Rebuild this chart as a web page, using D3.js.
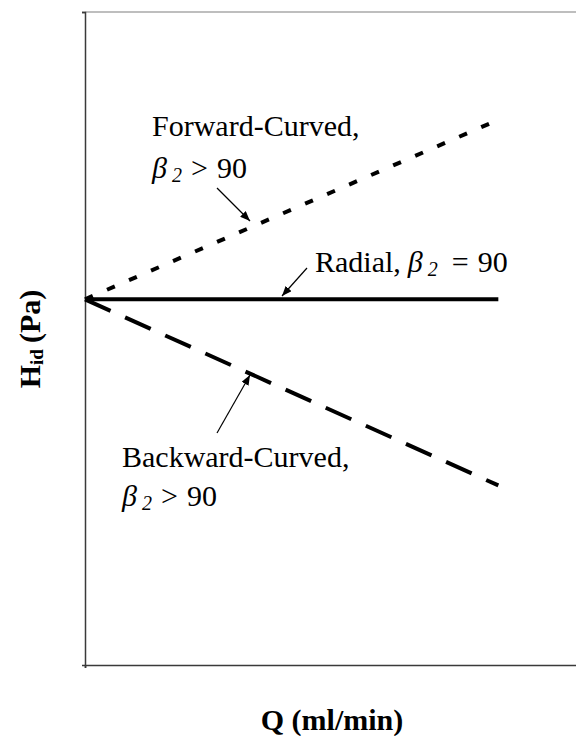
<!DOCTYPE html>
<html>
<head>
<meta charset="utf-8">
<script src="https://cdn.jsdelivr.net/npm/d3@7"></script>
<style>
  body { margin: 0; background: #fff; }
  svg { display: block; }
  text { font-family: "Times New Roman", "Liberation Serif", serif; fill: #000; }
</style>
</head>
<body>
<svg id="chart"></svg>
<script>
const qValues = [0, 10];
const radialH = [56, 56];
const forwardH = [56, 83.5];
const backwardH = [56, 27.5];

const width = 576, height = 736;
const svg = d3.select("#chart").attr("width", width).attr("height", height);

// plot area runs past the right edge of the picture
const x = d3.scaleLinear().domain([0, 12]).range([85, 581]);
const y = d3.scaleLinear().domain([0, 100]).range([665, 12]);

// frame
svg.append("line")
    .attr("x1", x(0)).attr("x2", width)
    .attr("y1", y(100)).attr("y2", y(100))
    .attr("stroke", "#a8a8a8").attr("stroke-width", 1.5);

const xAxis = svg.append("g")
    .attr("transform", `translate(0,${y(0)})`)
    .call(d3.axisBottom(x).tickValues([0]).tickSize(3).tickFormat(""));
const yAxis = svg.append("g")
    .attr("transform", `translate(${x(0)},0)`)
    .call(d3.axisLeft(y).tickValues([100]).tickSize(3).tickFormat(""));
[xAxis, yAxis].forEach(g => {
    g.select(".domain").attr("stroke", "#3a3a3a").attr("stroke-width", 1.5);
    g.selectAll(".tick line").attr("stroke", "#3a3a3a").attr("stroke-width", 1.5);
});

// series
const series = [
    { name: "radial", values: radialH, dash: null },
    { name: "forward", values: forwardH, dash: "8.5,15.5" },
    { name: "backward", values: backwardH, dash: "28,16" }
];
const line = d3.line().x(d => x(d[0])).y(d => y(d[1]));
series.forEach(s => {
    svg.append("path")
        .datum(qValues.map((q, i) => [q, s.values[i]]))
        .attr("d", line)
        .attr("fill", "none")
        .attr("stroke", "#000")
        .attr("stroke-width", 4)
        .attr("stroke-dasharray", s.dash);
});

// arrowhead
svg.append("defs").append("marker")
    .attr("id", "arrow")
    .attr("viewBox", "0 0 10 8")
    .attr("refX", 10).attr("refY", 4)
    .attr("markerWidth", 10).attr("markerHeight", 8)
    .attr("markerUnits", "userSpaceOnUse")
    .attr("orient", "auto")
    .append("path")
    .attr("d", "M0,0 L10,4 L0,8 Z")
    .attr("fill", "#000");

const arrows = [
    [217, 188, 250, 221],
    [307, 268, 282, 296],
    [217, 433, 250, 375]
];
arrows.forEach(a => {
    svg.append("line")
        .attr("x1", a[0]).attr("y1", a[1])
        .attr("x2", a[2]).attr("y2", a[3])
        .attr("stroke", "#000").attr("stroke-width", 1.2)
        .attr("marker-end", "url(#arrow)");
});

// labels
function plain(x0, y0, str) {
    svg.append("text").attr("x", x0).attr("y", y0)
        .style("font-size", "30px").text(str);
}
function beta(x0, y0, prefix, rest) {
    const t = svg.append("text").attr("x", x0).attr("y", y0).style("font-size", "30px");
    if (prefix) t.append("tspan").text(prefix);
    t.append("tspan").attr("dx", prefix ? 7 : 0).style("font-style", "italic").text("β");
    t.append("tspan").attr("dx", 5).attr("dy", 4)
        .style("font-style", "italic").style("font-size", "20px").text("2");
    t.append("tspan").attr("dx", rest[0]).attr("dy", -4).text(rest[1]);
    t.append("tspan").attr("dx", 9).text("90");
}

plain(152, 136, "Forward-Curved,");
beta(152, 178, null, [9, ">"]);
beta(315, 272, "Radial,", [14, "="]);
plain(122, 467, "Backward-Curved,");
beta(122, 506, null, [9, ">"]);

// axis titles
svg.append("text")
    .attr("x", 332).attr("y", 730)
    .attr("text-anchor", "middle")
    .style("font-size", "30px").style("font-weight", "bold")
    .text("Q (ml/min)");

const yt = svg.append("text")
    .attr("transform", "translate(40,339) rotate(-90)")
    .attr("text-anchor", "middle")
    .style("font-size", "30px").style("font-weight", "bold");
yt.append("tspan").text("H");
yt.append("tspan").attr("dy", 3).style("font-size", "19px").text("id");
yt.append("tspan").attr("dy", -3).attr("dx", 6).text("(Pa)");
</script>
</body>
</html>
